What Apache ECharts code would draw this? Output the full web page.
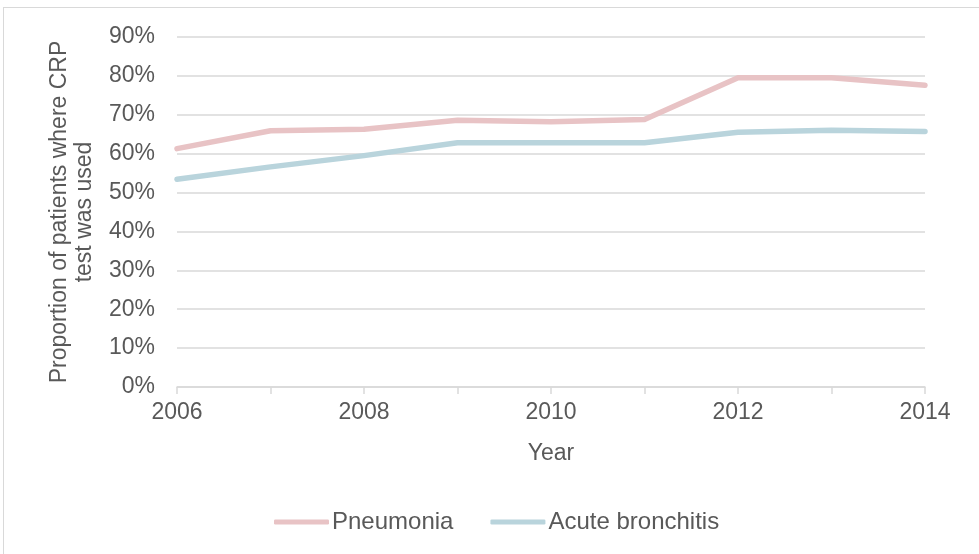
<!DOCTYPE html>
<html>
<head>
<meta charset="utf-8">
<script src="https://cdn.jsdelivr.net/npm/echarts@6/dist/echarts.min.js"></script>
<style>
  html, body { margin: 0; padding: 0; background: #fff; }
  #frame {
    position: absolute; left: 3px; top: 7px; width: 990px; height: 560px;
    border: 1px solid #d9d9d9; box-sizing: border-box;
  }
  #chart { position: absolute; left: 0; top: 0; width: 979px; height: 554px; }
</style>
</head>
<body>
<div id="frame"></div>
<div id="chart"></div>
<script>
const years = ['2006', '2007', '2008', '2009', '2010', '2011', '2012', '2013', '2014']
const pneumonia = [61.3, 65.9, 66.3, 68.6, 68.2, 68.8, 79.5, 79.5, 77.6]
const bronchitis = [53.4, 56.6, 59.5, 62.8, 62.8, 62.8, 65.5, 66.0, 65.7]

const textColor = '#595959'
const lineGray = '#d9d9d9'
const font = 'Liberation Sans, Arial, sans-serif'

const charts = echarts.init(document.getElementById('chart'))
charts.setOption({
  animation: false,
  textStyle: { fontFamily: font },
  grid: { left: 177, right: 54, top: 37, bottom: 167 },
  legend: {
    top: 505,
    left: 269,
    itemWidth: 55,
    itemHeight: 5,
    itemGap: 37,
    textStyle: { color: textColor, fontSize: 24, fontFamily: font, padding: [0, 0, 0, -2] },
    data: [
      { name: 'Pneumonia', icon: 'roundRect' },
      { name: 'Acute bronchitis', icon: 'roundRect' }
    ]
  },
  xAxis: {
    type: 'category',
    data: years,
    boundaryGap: false,
    name: 'Year',
    nameLocation: 'middle',
    nameGap: 55,
    nameTextStyle: { color: textColor, fontSize: 23 },
    axisLine: { lineStyle: { color: lineGray, width: 1.5 } },
    axisTick: { show: true, interval: 0, length: 7, lineStyle: { color: lineGray, width: 1.5 } },
    axisLabel: { interval: 1, color: textColor, fontSize: 23, margin: 14 }
  },
  yAxis: {
    type: 'value',
    min: 0,
    max: 90,
    interval: 10,
    name: 'Proportion of patients where CRP\ntest was used',
    nameLocation: 'middle',
    nameGap: 80,
    nameTextStyle: { color: textColor, fontSize: 23, lineHeight: 25 },
    axisLine: { show: false },
    axisTick: { show: false },
    axisLabel: { color: textColor, fontSize: 23, margin: 22, formatter: '{value}%' },
    splitLine: { lineStyle: { color: lineGray, width: 1.5 } }
  },
  series: [
    {
      name: 'Pneumonia',
      type: 'line',
      data: pneumonia,
      showSymbol: false,
      symbol: 'none',
      lineStyle: { color: '#e8c3c5', width: 5.5, cap: 'round', join: 'round' },
      itemStyle: { color: '#e8c3c5' }
    },
    {
      name: 'Acute bronchitis',
      type: 'line',
      data: bronchitis,
      showSymbol: false,
      symbol: 'none',
      lineStyle: { color: '#b9d4dc', width: 5.5, cap: 'round', join: 'round' },
      itemStyle: { color: '#b9d4dc' }
    }
  ]
})
</script>
</body>
</html>
